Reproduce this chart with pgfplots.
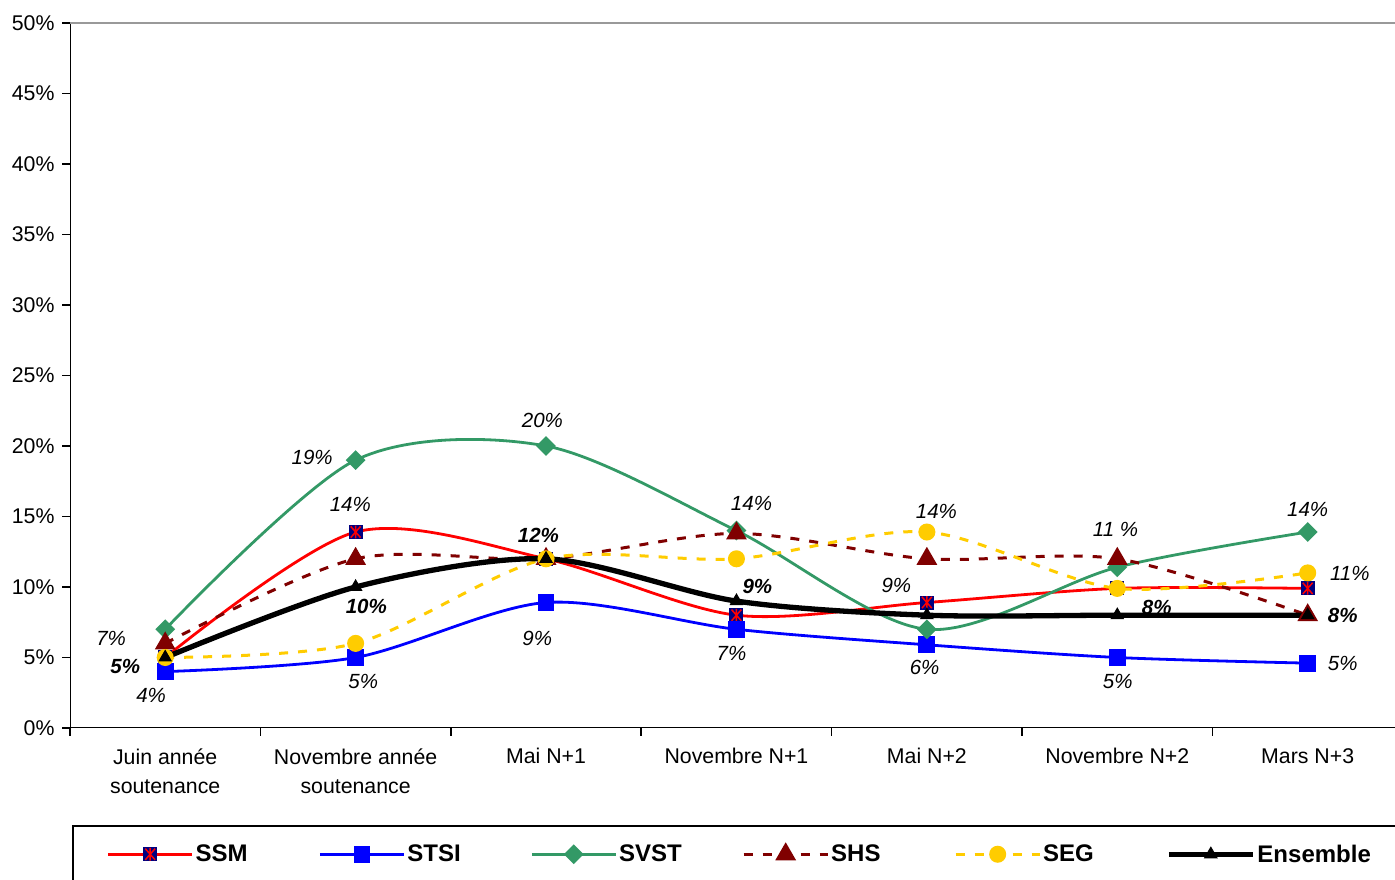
\documentclass[border=0pt]{standalone}
\usepackage{pgfplots}
\pgfplotsset{compat=1.18}
\usepackage{fontspec}
\setmainfont{Liberation Sans}

\definecolor{ssmnavy}{HTML}{000080}
\definecolor{svstgreen}{HTML}{339966}
\definecolor{shsred}{HTML}{800000}
\definecolor{seggold}{HTML}{FFCC00}

% navy square with a red asterisk, as used for SSM
\pgfdeclareplotmark{sqast}{%
  \pgfpathrectangle{\pgfqpoint{-\pgfplotmarksize}{-\pgfplotmarksize}}{\pgfqpoint{2\pgfplotmarksize}{2\pgfplotmarksize}}%
  \pgfsetfillcolor{ssmnavy}\pgfusepathqfill
  \pgfsetstrokecolor{red}\pgfsetlinewidth{1.5pt}%
  \pgfpathmoveto{\pgfqpoint{-0.7\pgfplotmarksize}{-0.8\pgfplotmarksize}}\pgfpathlineto{\pgfqpoint{0.7\pgfplotmarksize}{0.8\pgfplotmarksize}}%
  \pgfpathmoveto{\pgfqpoint{-0.7\pgfplotmarksize}{0.8\pgfplotmarksize}}\pgfpathlineto{\pgfqpoint{0.7\pgfplotmarksize}{-0.8\pgfplotmarksize}}%
  \pgfpathmoveto{\pgfqpoint{0pt}{-0.9\pgfplotmarksize}}\pgfpathlineto{\pgfqpoint{0pt}{0.9\pgfplotmarksize}}%
  \pgfusepathqstroke}

\newcommand{\lab}{\fontsize{20.5}{24}\selectfont\itshape}
\newcommand{\labb}{\fontsize{20.5}{24}\selectfont\bfseries\itshape}

\begin{document}
\begin{tikzpicture}
\useasboundingbox (0,0) rectangle (1395pt,880pt);
\clip (0,0) rectangle (1395pt,880pt);
\begin{axis}[
    at={(70pt,152pt)}, anchor=south west,
    scale only axis, width=1333pt, height=705pt,
    xmin=-0.5, xmax=6.5, ymin=0, ymax=50,
    axis line style={draw=none},
    tick align=outside, xtick pos=bottom, ytick pos=left,
    major tick length=8pt,
    tick style={black, line width=1.6pt},
    ytick={0,5,...,50},
    yticklabel={\pgfmathprintnumber{\tick}\%},
    /pgf/number format/assume math mode=true,
    xtick={-0.5,0.5,...,6.5}, xticklabels={},
    extra x ticks={0,1,2,3,4,5,6},
    extra x tick labels={{Juin année\\soutenance},{Novembre année\\soutenance},{Mai N+1},{Novembre N+1},{Mai N+2},{Novembre N+2},{Mars N+3}},
    extra x tick style={major tick length=0pt},
    xticklabel style={align=center, font=\fontsize{21.3}{29.5}\selectfont, yshift=-17pt},
    yticklabel style={font=\fontsize{21.3}{24}\selectfont, xshift=-4pt},
    legend image code/.code={\draw[mark repeat=2,mark phase=2] plot coordinates {(0pt,0pt) (42pt,0pt) (84pt,0pt)};},
    legend columns=6,
    legend style={at={(0.0015,-0.1376)}, anchor=north west, draw=black, line width=1.6pt,
        font=\fontsize{24}{26}\selectfont\bfseries, inner xsep=34pt, inner ysep=17pt,
        nodes={inner sep=2pt}},
]
\addplot[red, line width=2.8pt, smooth, mark=sqast, mark size=7pt] coordinates {
    (0,5) (1,13.9) (2,12) (3,8) (4,8.9) (5,9.9) (6,9.9)
};
\addlegendentry{\makebox[121pt][l]{SSM}}
\addplot[blue, line width=2.8pt, smooth, mark=square*, mark size=7pt] coordinates {
    (0,4) (1,5) (2,8.9) (3,7) (4,5.9) (5,5) (6,4.6)
};
\addlegendentry{\makebox[121pt][l]{STSI}}
\addplot[svstgreen, line width=2.8pt, smooth, mark=square*, mark size=5.6pt, mark options={rotate=45}] coordinates {
    (0,7) (1,19) (2,20) (3,14) (4,7) (5,11.4) (6,13.9)
};
\addlegendentry{\makebox[121pt][l]{SVST}}
\addplot[shsred, line width=3pt, smooth, dash pattern=on 9pt off 10pt, mark=triangle*, mark size=9pt, mark options={solid}] coordinates {
    (0,6) (1,12) (2,12) (3,13.8) (4,12) (5,12) (6,8)
};
\addlegendentry{\makebox[121pt][l]{SHS}}
\addplot[seggold, line width=3pt, smooth, dash pattern=on 9pt off 10pt, mark=*, mark size=7pt, mark options={solid}] coordinates {
    (0,5) (1,6) (2,12) (3,12) (4,13.9) (5,9.9) (6,11)
};
\addlegendentry{\makebox[121pt][l]{SEG}}
\addplot[black, line width=5.3pt, smooth, mark=triangle*, mark size=7pt, mark options={line width=1pt}] coordinates {
    (0,5) (1,10) (2,12) (3,9) (4,8) (5,8) (6,8)
};
\addlegendentry{Ensemble}

% axis frame: black left and bottom, grey top
\draw[black, line width=2.2pt] (rel axis cs:0,1) -- (rel axis cs:0,0) -- (rel axis cs:1,0);
\draw[gray!80, line width=1.8pt] (rel axis cs:0,1) -- (rel axis cs:1,1);

% data labels
\node[font=\lab] at (axis cs:-0.284,6.38) {7\%};
\node[font=\labb] at (axis cs:-0.21,4.33) {5\%};
\node[font=\lab] at (axis cs:-0.074,2.34) {4\%};
\node[font=\lab] at (axis cs:0.772,19.22) {19\%};
\node[font=\lab] at (axis cs:0.972,15.82) {14\%};
\node[font=\labb] at (axis cs:1.056,8.65) {10\%};
\node[font=\lab] at (axis cs:1.04,3.33) {5\%};
\node[font=\lab] at (axis cs:1.981,21.84) {20\%};
\node[font=\labb] at (axis cs:1.96,13.69) {12\%};
\node[font=\lab] at (axis cs:1.954,6.38) {9\%};
\node[font=\lab] at (axis cs:3.079,15.96) {14\%};
\node[font=\labb] at (axis cs:3.11,10.07) {9\%};
\node[font=\lab] at (axis cs:2.974,5.32) {7\%};
\node[font=\lab] at (axis cs:4.05,15.39) {14\%};
\node[font=\lab] at (axis cs:3.84,10.14) {9\%};
\node[font=\lab] at (axis cs:3.988,4.33) {6\%};
\node[font=\lab] at (axis cs:4.991,14.11) {11 \%};
\node[font=\labb] at (axis cs:5.207,8.58) {8\%};
\node[font=\lab] at (axis cs:5.002,3.33) {5\%};
\node[font=\lab] at (axis cs:6.0,15.53) {14\%};
\node[font=\lab] at (axis cs:6.221,10.99) {11\%};
\node[font=\labb] at (axis cs:6.184,8.01) {8\%};
\node[font=\lab] at (axis cs:6.184,4.61) {5\%};
\end{axis}
\end{tikzpicture}
\end{document}
